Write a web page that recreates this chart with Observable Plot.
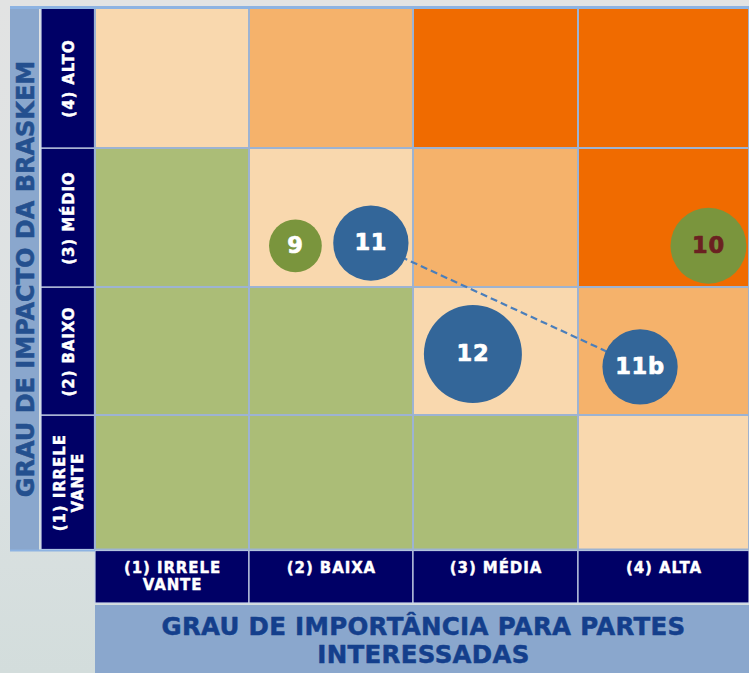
<!DOCTYPE html>
<html>
<head>
<meta charset="utf-8">
<script src="https://cdn.jsdelivr.net/npm/d3@7"></script>
<script src="https://cdn.jsdelivr.net/npm/@observablehq/plot@0.6"></script>
<style>
  html, body { margin: 0; padding: 0; }
  body {
    width: 749px; height: 673px; overflow: hidden;
    background: linear-gradient(to bottom, #e2e3e3 0%, #dde2e3 60%, #d3dddc 100%);
  }
  .hdr text { letter-spacing: 0.9px; }
  .bub text { letter-spacing: 0.8px; }
  .ttl text { letter-spacing: 0.3px; }
</style>
</head>
<body>
<div id="chart"></div>
<script>
// ---- data ----
const levels = [1, 2, 3, 4];
const importanceLabels = ["(1) IRRELE\nVANTE", "(2) BAIXA", "(3) MÉDIA", "(4) ALTA"];
const impactLabels = ["(1) IRRELE\nVANTE", "(2) BAIXO", "(3) MÉDIO", "(4) ALTO"];
// zone of each cell: rows = impact 1..4, columns = importance 1..4
const zoneRow1 = [0, 0, 0, 1];
const zoneRow2 = [0, 0, 1, 2];
const zoneRow3 = [0, 1, 2, 3];
const zoneRow4 = [1, 2, 3, 3];
const zoneRows = [zoneRow1, zoneRow2, zoneRow3, zoneRow4];
// material topics (bubbles)
const topicIds = ["9", "11", "12", "11b", "10"];
const topicImportance = [1.28, 1.74, 2.36, 3.36, 3.76];
const topicImpact = [2.30, 2.32, 1.48, 1.38, 2.30];
const topicWeight = [29, 59, 100, 59, 60];
const topicGroup = ["verde", "azul", "azul", "azul", "verde"];
const topicLinks = [["11", "11b"]];
const titleImpact = "GRAU DE IMPACTO DA BRASKEM";
const titleImportance = "GRAU DE IMPORTÂNCIA PARA PARTES\nINTERESSADAS";

// ---- styles ----
const zoneColors = ["#abbd77", "#f9d8ae", "#f5b26b", "#f06b00"];
const groupColors = {azul: "#336699", verde: "#7a953d"};
const navy = "#000066";
const titleBox = "#8aa7cd";
const titleInk = "#143f8c";
const gridLine = "#9db3d2";

// ---- derived tables ----
const cells = [];
levels.forEach((imp, r) => levels.forEach((imo, c) => {
  cells.push({importance: imo, impact: imp, zone: zoneRows[r][c]});
}));
const topics = topicIds.map((id, i) => ({
  id, importance: topicImportance[i], impact: topicImpact[i],
  weight: topicWeight[i], group: topicGroup[i]
}));
const byId = new Map(topics.map(d => [d.id, d]));
const links = topicLinks.map(([a, b]) => ({a: byId.get(a), b: byId.get(b)}));
const xHeads = levels.map((v, i) => ({level: v, label: importanceLabels[i]}));
const yHeads = levels.map((v, i) => ({level: v, label: impactLabels[i]}));

const bubbleInk = d => d.id === "10" ? "#6b2121" : "white";

const chart = Plot.plot({
  width: 749,
  height: 673,
  margin: 0,
  style: {fontFamily: "'DejaVu Sans', Verdana, sans-serif", background: "transparent", overflow: "visible"},
  x: {type: "linear", domain: [-2, -1, 0, 1, 2, 3, 4], range: [10, 40, 95, 249, 413, 578, 749], axis: null},
  y: {type: "linear", domain: [-2, -1, 0, 1, 2, 3, 4], range: [673, 603.5, 549.5, 415, 287, 148, 8], axis: null},
  color: {type: "ordinal", domain: [0, 1, 2, 3], range: zoneColors},
  r: {type: "sqrt", domain: [0, 100], range: [0, 49]},
  marks: [
    // title boxes
    Plot.rect([titleImpact], {x1: -2, x2: -1, y1: 0, y2: 4, fill: titleBox, insetRight: 1, insetBottom: -1.5}),
    Plot.rect([titleImportance], {x1: 0, x2: 4, y1: -2, y2: -1, fill: titleBox, insetTop: 1.5}),
    // header cells
    Plot.rect(yHeads, {x1: -1, x2: 0, y1: d => d.level - 1, y2: d => d.level, fill: navy, stroke: "#c9d4e8", strokeWidth: 1.2, insetLeft: 1, insetRight: 0.5}),
    Plot.rect(xHeads, {x1: d => d.level - 1, x2: d => d.level, y1: -1, y2: 0, fill: navy, stroke: "#c9d4e8", strokeWidth: 1.2, insetTop: 1, insetBottom: 0.5}),
    // matrix cells
    Plot.rect(cells, {x1: d => d.importance - 1, x2: d => d.importance, y1: d => d.impact - 1, y2: d => d.impact, fill: "zone", stroke: gridLine, strokeWidth: 2}),
    // top border
    Plot.ruleY([4], {x1: -2, x2: 4, stroke: "#8db3e2", strokeWidth: 3, dy: -1}),
    // bottom line under left block
    Plot.ruleY([0], {x1: -2, x2: 0, stroke: "#8db3e2", strokeWidth: 2, dy: 0.5}),
    // header texts
    Plot.text(xHeads, {x: d => d.level - 0.5, y: 0, text: "label", fill: "white", stroke: "white", strokeWidth: 0.4, fontWeight: "bold", fontSize: 15, lineAnchor: "top", lineHeight: 1.15, dy: 11, className: "hdr"}),
    Plot.text(yHeads, {x: -0.5, y: d => d.level - 0.5, text: "label", fill: "white", stroke: "white", strokeWidth: 0.4, fontWeight: "bold", fontSize: 15, rotate: -90, lineAnchor: "middle", lineHeight: 1.2, className: "hdr"}),
    // titles
    Plot.text([titleImpact], {x: -1.5, y: 2, text: d => d, rotate: -90, fill: "#24508f", stroke: "#24508f", strokeWidth: 0.5, fontWeight: "bold", fontSize: 24, dy: -8.5, dx: 1}),
    Plot.text([titleImportance], {x: 2, y: -1.5, text: d => d, fill: titleInk, stroke: titleInk, strokeWidth: 0.5, fontWeight: "bold", fontSize: 24.5, lineHeight: 1.15, dx: 10, dy: 1, className: "ttl"}),
    // dashed link between 11 and 11b
    Plot.link(links, {x1: d => d.a.importance, y1: d => d.a.impact, x2: d => d.b.importance, y2: d => d.b.impact, stroke: "#4a7ebb", strokeWidth: 2.2, strokeDasharray: "7,4"}),
    // bubbles
    Plot.dot(topics, {x: "importance", y: "impact", r: "weight", fill: d => groupColors[d.group], stroke: "none"}),
    Plot.text(topics, {x: "importance", y: "impact", text: "id", fill: bubbleInk, stroke: bubbleInk, strokeWidth: 0.7, fontWeight: "bold", fontSize: 22.5, className: "bub"})
  ]
});
document.getElementById("chart").appendChild(chart);
</script>
</body>
</html>
